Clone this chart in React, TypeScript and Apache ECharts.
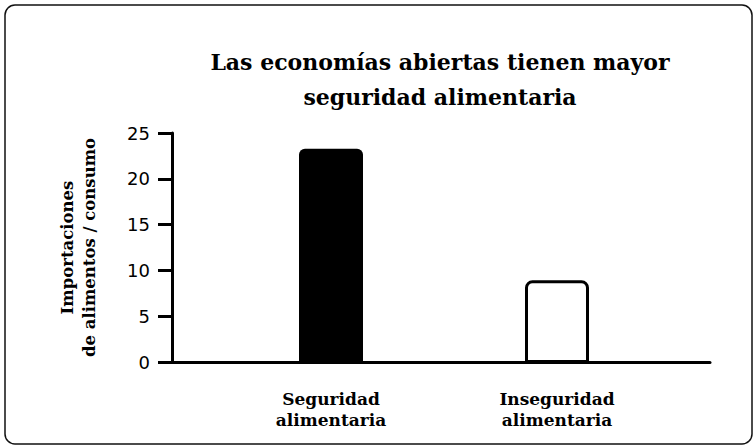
import React, { useEffect, useRef } from "react";
import * as echarts from "echarts";

const categories = ["Seguridad\nalimentaria", "Inseguridad\nalimentaria"];
const values = [23.3, 9];
const yTicks = { min: 0, max: 25, interval: 5 };
const titleText = "Las economías abiertas tienen mayor\nseguridad alimentaria";
const yAxisName = "Importaciones\nde alimentos / consumo";

const SERIF = "'DejaVu Serif', serif";
const SANS = "'DejaVu Sans', sans-serif";

export default function App() {
  const ref = useRef<HTMLDivElement>(null);
  useEffect(() => {
    if (!ref.current) return;
    const chart = echarts.init(ref.current, undefined, { renderer: "svg" });
    chart.setOption({
      animation: false,
      backgroundColor: "#fff",
      graphic: [
        {
          type: "rect",
          shape: { x: 5, y: 5, width: 747, height: 439, r: 10 },
          style: { fill: "none", stroke: "#111", lineWidth: 1.5 },
          silent: true,
        },
        {
          type: "text",
          x: 440,
          y: 44,
          style: {
            text: titleText,
            textAlign: "center",
            textVerticalAlign: "top",
            font: `bold 22px ${SERIF}`,
            lineHeight: 35,
            fill: "#000",
          },
        },
      ],
      grid: [
        { left: 172, right: 46, top: 133, bottom: 86 },
        { left: 218, right: 86, top: 133, bottom: 85 },
      ],
      xAxis: [
        {
          gridIndex: 0,
          type: "category",
          data: ["", ""],
          z: 5,
          axisLine: { lineStyle: { color: "#000", width: 3 } },
          axisTick: { show: false },
          axisLabel: { show: false },
        },
        {
          gridIndex: 1,
          type: "category",
          data: categories,
          axisLine: { show: false },
          axisTick: { show: false },
          axisLabel: {
            margin: 25,
            color: "#000",
            fontFamily: SERIF,
            fontWeight: "bold",
            fontSize: 17,
            lineHeight: 21,
          },
        },
      ],
      yAxis: [
        {
          gridIndex: 0,
          type: "value",
          min: yTicks.min,
          max: yTicks.max,
          interval: yTicks.interval,
          splitLine: { show: false },
          axisLine: { show: true, lineStyle: { color: "#000", width: 3 } },
          axisTick: { show: true, length: 14, lineStyle: { color: "#000", width: 3 } },
          axisLabel: { color: "#000", fontFamily: SANS, fontSize: 18, margin: 22 },
          name: yAxisName,
          nameLocation: "middle",
          nameRotate: 90,
          nameGap: 72,
          nameTextStyle: {
            color: "#000",
            fontFamily: SERIF,
            fontWeight: "bold",
            fontSize: 16.5,
            lineHeight: 22,
          },
        },
        {
          gridIndex: 1,
          type: "value",
          min: yTicks.min,
          max: yTicks.max,
          interval: yTicks.interval,
          show: false,
        },
      ],
      series: [
        {
          type: "bar",
          xAxisIndex: 1,
          yAxisIndex: 1,
          barWidth: 64,
          data: values.map((v, i) =>
            i === 0
              ? { value: v, itemStyle: { color: "#000", borderRadius: [6, 6, 0, 0] } }
              : {
                  value: v,
                  itemStyle: {
                    color: "#fff",
                    borderColor: "#000",
                    borderWidth: 3,
                    borderRadius: [6, 6, 0, 0],
                  },
                }
          ),
        },
      ],
    });
    return () => chart.dispose();
  }, []);
  return (
    <div
      ref={ref}
      style={{ position: "fixed", left: 0, top: 0, width: 756, height: 448 }}
    />
  );
}
